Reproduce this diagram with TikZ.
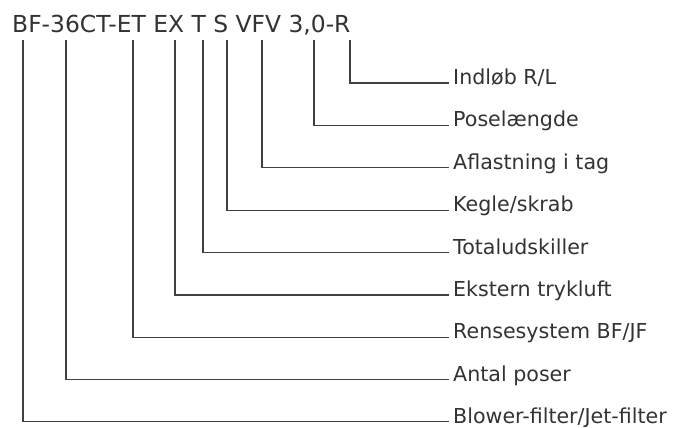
\documentclass[tikz,border=0pt]{standalone}
\usepackage{fontspec}
\setmainfont{DejaVu Sans}

\begin{document}
\begin{tikzpicture}[
    x=1pt, y=1pt,
    code/.style={anchor=base west, inner sep=0pt, text=black!80,
                font=\fontsize{23.4}{28}\selectfont},
    descr/.style={anchor=west, inner xsep=4pt, inner ysep=0pt, text=black!80,
                text height=8pt, text depth=5pt,
                font=\fontsize{20.6}{25}\selectfont},
    conn/.style={draw=black!75, line width=1.2pt},
]
\useasboundingbox[fill=white] (0,0) rectangle (683,-428);

\node[code] (typeCode) at (12,-32.5) {BF-36CT-ET EX T S VFV 3,0-R};

% points under the type code
\coordinate (cInlet)    at (350,-40);
\coordinate (cLength)   at (314,-40);
\coordinate (cRelief)   at (262,-40);
\coordinate (cCone)     at (227,-40);
\coordinate (cSep)      at (203,-40);
\coordinate (cAir)      at (175,-40);
\coordinate (cClean)    at (133,-40);
\coordinate (cBags)     at (66,-40);
\coordinate (cFilter)   at (23,-40);

\node[descr] (inlet)      at (449,-83)    {Indløb R/L};
\node[descr] (bagLength)  at (449,-125.4) {Poselængde};
\node[descr] (relief)     at (449,-167.8) {Aflastning i tag};
\node[descr] (cone)       at (449,-210.2) {Kegle/skrab};
\node[descr] (separator)  at (449,-252.6) {Totaludskiller};
\node[descr] (extAir)     at (449,-295)   {Ekstern trykluft};
\node[descr] (cleaning)   at (449,-337.4) {Rensesystem BF/JF};
\node[descr] (numBags)    at (449,-379.8) {Antal poser};
\node[descr] (filterType) at (449,-421.6) {Blower-filter/Jet-filter};

\draw[conn] (cInlet)  |- (inlet.west);
\draw[conn] (cLength) |- (bagLength.west);
\draw[conn] (cRelief) |- (relief.west);
\draw[conn] (cCone)   |- (cone.west);
\draw[conn] (cSep)    |- (separator.west);
\draw[conn] (cAir)    |- (extAir.west);
\draw[conn] (cClean)  |- (cleaning.west);
\draw[conn] (cBags)   |- (numBags.west);
\draw[conn] (cFilter) |- (filterType.west);

\end{tikzpicture}
\end{document}
